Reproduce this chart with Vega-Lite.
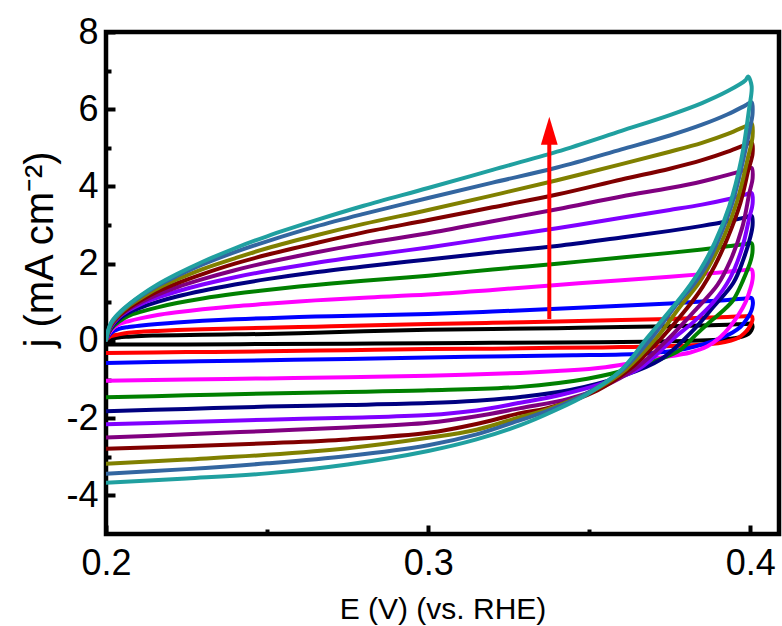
{
"$schema": "https://vega.github.io/schema/vega-lite/v6.json",
"width": 673, "height": 502,
"autosize": {"type": "none"},
"padding": {"left": 106, "top": 32, "right": 3, "bottom": 92},
"background": "white",
"config": {
  "view": {"stroke": "black", "strokeWidth": 4.5},
  "font": "Liberation Sans",
  "axis": {"labelFont": "Liberation Sans", "titleFont": "Liberation Sans", "labelColor": "black", "titleColor": "black", "titleFontWeight": "normal", "domain": false, "grid": false, "tickColor": "black", "labelFlush": false, "labelOverlap": false}
},
"datasets": {
"arrow": [{"E": 0.3376, "j1": 0.57, "j2": 5.3, "jt": 5.44}],
"cv": [
{"c":"k","o":1,"E":0.2,"j":0.03},{"c":"k","o":2,"E":0.2015,"j":0.05},{"c":"k","o":3,"E":0.204,"j":0.09},{"c":"k","o":4,"E":0.207,"j":0.11},{"c":"k","o":5,"E":0.211,"j":0.13},{"c":"k","o":6,"E":0.216,"j":0.14},{"c":"k","o":7,"E":0.222,"j":0.15},{"c":"k","o":8,"E":0.23,"j":0.16},{"c":"k","o":9,"E":0.24,"j":0.17},{"c":"k","o":10,"E":0.25,"j":0.18},{"c":"k","o":11,"E":0.265,"j":0.21},{"c":"k","o":12,"E":0.28,"j":0.25},{"c":"k","o":13,"E":0.3,"j":0.29},{"c":"k","o":14,"E":0.32,"j":0.31},{"c":"k","o":15,"E":0.34,"j":0.33},{"c":"k","o":16,"E":0.36,"j":0.36},{"c":"k","o":17,"E":0.375,"j":0.38},{"c":"k","o":18,"E":0.385,"j":0.40},{"c":"k","o":19,"E":0.393,"j":0.42},{"c":"k","o":20,"E":0.3985,"j":0.44},{"c":"k","o":21,"E":0.4004,"j":0.44},{"c":"k","o":22,"E":0.4007,"j":0.36},{"c":"k","o":23,"E":0.4003,"j":0.27},{"c":"k","o":24,"E":0.3994,"j":0.18},{"c":"k","o":25,"E":0.3975,"j":0.11},{"c":"k","o":26,"E":0.395,"j":0.07},{"c":"k","o":27,"E":0.39,"j":0.03},{"c":"k","o":28,"E":0.38,"j":0.0},{"c":"k","o":29,"E":0.36,"j":-0.03},{"c":"k","o":30,"E":0.34,"j":-0.04},{"c":"k","o":31,"E":0.32,"j":-0.05},{"c":"k","o":32,"E":0.3,"j":-0.06},{"c":"k","o":33,"E":0.275,"j":-0.07},{"c":"k","o":34,"E":0.25,"j":-0.08},{"c":"k","o":35,"E":0.225,"j":-0.09},{"c":"k","o":36,"E":0.2,"j":-0.09},
{"c":"r","o":1,"E":0.2,"j":0.03},{"c":"r","o":2,"E":0.2015,"j":0.12},{"c":"r","o":3,"E":0.204,"j":0.17},{"c":"r","o":4,"E":0.207,"j":0.21},{"c":"r","o":5,"E":0.211,"j":0.24},{"c":"r","o":6,"E":0.216,"j":0.26},{"c":"r","o":7,"E":0.222,"j":0.28},{"c":"r","o":8,"E":0.23,"j":0.30},{"c":"r","o":9,"E":0.24,"j":0.32},{"c":"r","o":10,"E":0.25,"j":0.34},{"c":"r","o":11,"E":0.265,"j":0.37},{"c":"r","o":12,"E":0.28,"j":0.40},{"c":"r","o":13,"E":0.3,"j":0.44},{"c":"r","o":14,"E":0.32,"j":0.47},{"c":"r","o":15,"E":0.34,"j":0.50},{"c":"r","o":16,"E":0.36,"j":0.54},{"c":"r","o":17,"E":0.375,"j":0.57},{"c":"r","o":18,"E":0.385,"j":0.60},{"c":"r","o":19,"E":0.393,"j":0.62},{"c":"r","o":20,"E":0.3985,"j":0.64},{"c":"r","o":21,"E":0.4004,"j":0.64},{"c":"r","o":22,"E":0.4007,"j":0.56},{"c":"r","o":23,"E":0.4003,"j":0.45},{"c":"r","o":24,"E":0.3994,"j":0.32},{"c":"r","o":25,"E":0.398,"j":0.19},{"c":"r","o":26,"E":0.3965,"j":0.09},{"c":"r","o":27,"E":0.394,"j":0.01},{"c":"r","o":28,"E":0.39,"j":-0.06},{"c":"r","o":29,"E":0.38,"j":-0.12},{"c":"r","o":30,"E":0.36,"j":-0.16},{"c":"r","o":31,"E":0.34,"j":-0.18},{"c":"r","o":32,"E":0.32,"j":-0.2},{"c":"r","o":33,"E":0.3,"j":-0.21},{"c":"r","o":34,"E":0.275,"j":-0.24},{"c":"r","o":35,"E":0.25,"j":-0.27},{"c":"r","o":36,"E":0.225,"j":-0.29},{"c":"r","o":37,"E":0.2,"j":-0.31},
{"c":"b","o":1,"E":0.2,"j":0.03},{"c":"b","o":2,"E":0.2015,"j":0.20},{"c":"b","o":3,"E":0.204,"j":0.31},{"c":"b","o":4,"E":0.207,"j":0.36},{"c":"b","o":5,"E":0.211,"j":0.40},{"c":"b","o":6,"E":0.216,"j":0.44},{"c":"b","o":7,"E":0.222,"j":0.48},{"c":"b","o":8,"E":0.23,"j":0.52},{"c":"b","o":9,"E":0.24,"j":0.56},{"c":"b","o":10,"E":0.25,"j":0.59},{"c":"b","o":11,"E":0.265,"j":0.63},{"c":"b","o":12,"E":0.28,"j":0.66},{"c":"b","o":13,"E":0.3,"j":0.70},{"c":"b","o":14,"E":0.32,"j":0.76},{"c":"b","o":15,"E":0.34,"j":0.83},{"c":"b","o":16,"E":0.36,"j":0.91},{"c":"b","o":17,"E":0.375,"j":0.97},{"c":"b","o":18,"E":0.385,"j":1.02},{"c":"b","o":19,"E":0.393,"j":1.06},{"c":"b","o":20,"E":0.3985,"j":1.10},{"c":"b","o":21,"E":0.4004,"j":1.11},{"c":"b","o":22,"E":0.4008,"j":1.0},{"c":"b","o":23,"E":0.4006,"j":0.86},{"c":"b","o":24,"E":0.4,"j":0.72},{"c":"b","o":25,"E":0.3985,"j":0.52},{"c":"b","o":26,"E":0.3969,"j":0.36},{"c":"b","o":27,"E":0.3945,"j":0.22},{"c":"b","o":28,"E":0.3916,"j":0.1},{"c":"b","o":29,"E":0.388,"j":-0.02},{"c":"b","o":30,"E":0.383,"j":-0.14},{"c":"b","o":31,"E":0.377,"j":-0.25},{"c":"b","o":32,"E":0.37,"j":-0.31},{"c":"b","o":33,"E":0.36,"j":-0.35},{"c":"b","o":34,"E":0.345,"j":-0.37},{"c":"b","o":35,"E":0.33,"j":-0.39},{"c":"b","o":36,"E":0.3,"j":-0.43},{"c":"b","o":37,"E":0.275,"j":-0.47},{"c":"b","o":38,"E":0.25,"j":-0.5},{"c":"b","o":39,"E":0.225,"j":-0.53},{"c":"b","o":40,"E":0.2,"j":-0.57},
{"c":"m","o":1,"E":0.2,"j":0.03},{"c":"m","o":2,"E":0.2015,"j":0.26},{"c":"m","o":3,"E":0.204,"j":0.43},{"c":"m","o":4,"E":0.207,"j":0.51},{"c":"m","o":5,"E":0.211,"j":0.59},{"c":"m","o":6,"E":0.216,"j":0.67},{"c":"m","o":7,"E":0.222,"j":0.74},{"c":"m","o":8,"E":0.23,"j":0.82},{"c":"m","o":9,"E":0.24,"j":0.90},{"c":"m","o":10,"E":0.25,"j":0.96},{"c":"m","o":11,"E":0.265,"j":1.05},{"c":"m","o":12,"E":0.28,"j":1.12},{"c":"m","o":13,"E":0.3,"j":1.20},{"c":"m","o":14,"E":0.32,"j":1.32},{"c":"m","o":15,"E":0.34,"j":1.45},{"c":"m","o":16,"E":0.36,"j":1.57},{"c":"m","o":17,"E":0.375,"j":1.66},{"c":"m","o":18,"E":0.385,"j":1.73},{"c":"m","o":19,"E":0.393,"j":1.79},{"c":"m","o":20,"E":0.3985,"j":1.84},{"c":"m","o":21,"E":0.4004,"j":1.85},{"c":"m","o":22,"E":0.4008,"j":1.7},{"c":"m","o":23,"E":0.4005,"j":1.5},{"c":"m","o":24,"E":0.3998,"j":1.3},{"c":"m","o":25,"E":0.3985,"j":1.0},{"c":"m","o":26,"E":0.3965,"j":0.7},{"c":"m","o":27,"E":0.3938,"j":0.38},{"c":"m","o":28,"E":0.3907,"j":0.1},{"c":"m","o":29,"E":0.3867,"j":-0.14},{"c":"m","o":30,"E":0.3814,"j":-0.3},{"c":"m","o":31,"E":0.37,"j":-0.46},{"c":"m","o":32,"E":0.355,"j":-0.68},{"c":"m","o":33,"E":0.34,"j":-0.78},{"c":"m","o":34,"E":0.3286,"j":-0.83},{"c":"m","o":35,"E":0.3,"j":-0.9},{"c":"m","o":36,"E":0.275,"j":-0.94},{"c":"m","o":37,"E":0.25,"j":-0.97},{"c":"m","o":38,"E":0.225,"j":-1.0},{"c":"m","o":39,"E":0.2,"j":-1.03},
{"c":"g","o":1,"E":0.2,"j":0.03},{"c":"g","o":2,"E":0.2015,"j":0.30},{"c":"g","o":3,"E":0.204,"j":0.50},{"c":"g","o":4,"E":0.207,"j":0.65},{"c":"g","o":5,"E":0.211,"j":0.76},{"c":"g","o":6,"E":0.216,"j":0.87},{"c":"g","o":7,"E":0.222,"j":0.98},{"c":"g","o":8,"E":0.23,"j":1.10},{"c":"g","o":9,"E":0.24,"j":1.22},{"c":"g","o":10,"E":0.25,"j":1.32},{"c":"g","o":11,"E":0.265,"j":1.45},{"c":"g","o":12,"E":0.28,"j":1.56},{"c":"g","o":13,"E":0.3,"j":1.69},{"c":"g","o":14,"E":0.32,"j":1.85},{"c":"g","o":15,"E":0.34,"j":2.00},{"c":"g","o":16,"E":0.36,"j":2.16},{"c":"g","o":17,"E":0.375,"j":2.28},{"c":"g","o":18,"E":0.385,"j":2.37},{"c":"g","o":19,"E":0.393,"j":2.45},{"c":"g","o":20,"E":0.3985,"j":2.51},{"c":"g","o":21,"E":0.4004,"j":2.53},{"c":"g","o":22,"E":0.4007,"j":2.35},{"c":"g","o":23,"E":0.4002,"j":2.1},{"c":"g","o":24,"E":0.3978,"j":1.58},{"c":"g","o":25,"E":0.3947,"j":1.06},{"c":"g","o":26,"E":0.3915,"j":0.78},{"c":"g","o":27,"E":0.3876,"j":0.50},{"c":"g","o":28,"E":0.383,"j":0.15},{"c":"g","o":29,"E":0.3783,"j":-0.23},{"c":"g","o":30,"E":0.372,"j":-0.47},{"c":"g","o":31,"E":0.365,"j":-0.67},{"c":"g","o":32,"E":0.3494,"j":-0.98},{"c":"g","o":33,"E":0.3286,"j":-1.19},{"c":"g","o":34,"E":0.3,"j":-1.28},{"c":"g","o":35,"E":0.275,"j":-1.32},{"c":"g","o":36,"E":0.25,"j":-1.36},{"c":"g","o":37,"E":0.225,"j":-1.41},{"c":"g","o":38,"E":0.2,"j":-1.46},
{"c":"n","o":1,"E":0.2,"j":0.03},{"c":"n","o":2,"E":0.2015,"j":0.33},{"c":"n","o":3,"E":0.204,"j":0.56},{"c":"n","o":4,"E":0.207,"j":0.73},{"c":"n","o":5,"E":0.211,"j":0.87},{"c":"n","o":6,"E":0.216,"j":1.01},{"c":"n","o":7,"E":0.222,"j":1.15},{"c":"n","o":8,"E":0.23,"j":1.30},{"c":"n","o":9,"E":0.24,"j":1.46},{"c":"n","o":10,"E":0.25,"j":1.60},{"c":"n","o":11,"E":0.265,"j":1.78},{"c":"n","o":12,"E":0.28,"j":1.93},{"c":"n","o":13,"E":0.3,"j":2.11},{"c":"n","o":14,"E":0.32,"j":2.29},{"c":"n","o":15,"E":0.34,"j":2.46},{"c":"n","o":16,"E":0.36,"j":2.68},{"c":"n","o":17,"E":0.375,"j":2.85},{"c":"n","o":18,"E":0.385,"j":2.98},{"c":"n","o":19,"E":0.393,"j":3.10},{"c":"n","o":20,"E":0.3985,"j":3.20},{"c":"n","o":21,"E":0.4004,"j":3.24},{"c":"n","o":22,"E":0.4007,"j":3.0},{"c":"n","o":23,"E":0.4,"j":2.69},{"c":"n","o":24,"E":0.3978,"j":2.1},{"c":"n","o":25,"E":0.3947,"j":1.5},{"c":"n","o":26,"E":0.3885,"j":0.88},{"c":"n","o":27,"E":0.3823,"j":0.28},{"c":"n","o":28,"E":0.372,"j":-0.49},{"c":"n","o":29,"E":0.3596,"j":-0.93},{"c":"n","o":30,"E":0.3441,"j":-1.27},{"c":"n","o":31,"E":0.3286,"j":-1.45},{"c":"n","o":32,"E":0.315,"j":-1.55},{"c":"n","o":33,"E":0.3,"j":-1.61},{"c":"n","o":34,"E":0.275,"j":-1.66},{"c":"n","o":35,"E":0.25,"j":-1.70},{"c":"n","o":36,"E":0.225,"j":-1.76},{"c":"n","o":37,"E":0.2,"j":-1.82},
{"c":"v","o":1,"E":0.2,"j":0.03},{"c":"v","o":2,"E":0.2015,"j":0.36},{"c":"v","o":3,"E":0.204,"j":0.61},{"c":"v","o":4,"E":0.207,"j":0.79},{"c":"v","o":5,"E":0.211,"j":0.96},{"c":"v","o":6,"E":0.216,"j":1.12},{"c":"v","o":7,"E":0.222,"j":1.28},{"c":"v","o":8,"E":0.23,"j":1.46},{"c":"v","o":9,"E":0.24,"j":1.65},{"c":"v","o":10,"E":0.25,"j":1.81},{"c":"v","o":11,"E":0.265,"j":2.02},{"c":"v","o":12,"E":0.28,"j":2.20},{"c":"v","o":13,"E":0.3,"j":2.42},{"c":"v","o":14,"E":0.32,"j":2.67},{"c":"v","o":15,"E":0.34,"j":2.92},{"c":"v","o":16,"E":0.36,"j":3.19},{"c":"v","o":17,"E":0.375,"j":3.39},{"c":"v","o":18,"E":0.385,"j":3.53},{"c":"v","o":19,"E":0.393,"j":3.67},{"c":"v","o":20,"E":0.3985,"j":3.79},{"c":"v","o":21,"E":0.4004,"j":3.83},{"c":"v","o":22,"E":0.4007,"j":3.55},{"c":"v","o":23,"E":0.3997,"j":3.2},{"c":"v","o":24,"E":0.3975,"j":2.42},{"c":"v","o":25,"E":0.3938,"j":1.64},{"c":"v","o":26,"E":0.3885,"j":1.0},{"c":"v","o":27,"E":0.3825,"j":0.5},{"c":"v","o":28,"E":0.3761,"j":0.06},{"c":"v","o":29,"E":0.3658,"j":-0.7},{"c":"v","o":30,"E":0.3534,"j":-1.12},{"c":"v","o":31,"E":0.341,"j":-1.4},{"c":"v","o":32,"E":0.3286,"j":-1.6},{"c":"v","o":33,"E":0.315,"j":-1.8},{"c":"v","o":34,"E":0.3,"j":-1.92},{"c":"v","o":35,"E":0.275,"j":-1.99},{"c":"v","o":36,"E":0.25,"j":-2.04},{"c":"v","o":37,"E":0.225,"j":-2.1},{"c":"v","o":38,"E":0.2,"j":-2.16},
{"c":"p","o":1,"E":0.2,"j":0.03},{"c":"p","o":2,"E":0.2015,"j":0.38},{"c":"p","o":3,"E":0.204,"j":0.63},{"c":"p","o":4,"E":0.207,"j":0.82},{"c":"p","o":5,"E":0.211,"j":1.01},{"c":"p","o":6,"E":0.216,"j":1.20},{"c":"p","o":7,"E":0.222,"j":1.39},{"c":"p","o":8,"E":0.23,"j":1.60},{"c":"p","o":9,"E":0.24,"j":1.83},{"c":"p","o":10,"E":0.25,"j":2.03},{"c":"p","o":11,"E":0.265,"j":2.29},{"c":"p","o":12,"E":0.28,"j":2.52},{"c":"p","o":13,"E":0.3,"j":2.79},{"c":"p","o":14,"E":0.32,"j":3.10},{"c":"p","o":15,"E":0.34,"j":3.41},{"c":"p","o":16,"E":0.36,"j":3.74},{"c":"p","o":17,"E":0.375,"j":3.96},{"c":"p","o":18,"E":0.385,"j":4.13},{"c":"p","o":19,"E":0.393,"j":4.30},{"c":"p","o":20,"E":0.3985,"j":4.43},{"c":"p","o":21,"E":0.4004,"j":4.48},{"c":"p","o":22,"E":0.4007,"j":4.2},{"c":"p","o":23,"E":0.3997,"j":3.83},{"c":"p","o":24,"E":0.3975,"j":2.94},{"c":"p","o":25,"E":0.3938,"j":2.08},{"c":"p","o":26,"E":0.3898,"j":1.45},{"c":"p","o":27,"E":0.3835,"j":0.85},{"c":"p","o":28,"E":0.3745,"j":0.05},{"c":"p","o":29,"E":0.3643,"j":-0.72},{"c":"p","o":30,"E":0.3534,"j":-1.22},{"c":"p","o":31,"E":0.3435,"j":-1.5},{"c":"p","o":32,"E":0.3286,"j":-1.74},{"c":"p","o":33,"E":0.315,"j":-1.95},{"c":"p","o":34,"E":0.3,"j":-2.12},{"c":"p","o":35,"E":0.275,"j":-2.24},{"c":"p","o":36,"E":0.25,"j":-2.33},{"c":"p","o":37,"E":0.225,"j":-2.42},{"c":"p","o":38,"E":0.2,"j":-2.5},
{"c":"w","o":1,"E":0.2,"j":0.03},{"c":"w","o":2,"E":0.2015,"j":0.40},{"c":"w","o":3,"E":0.204,"j":0.65},{"c":"w","o":4,"E":0.207,"j":0.85},{"c":"w","o":5,"E":0.211,"j":1.06},{"c":"w","o":6,"E":0.216,"j":1.28},{"c":"w","o":7,"E":0.222,"j":1.49},{"c":"w","o":8,"E":0.23,"j":1.73},{"c":"w","o":9,"E":0.24,"j":2.00},{"c":"w","o":10,"E":0.25,"j":2.23},{"c":"w","o":11,"E":0.265,"j":2.53},{"c":"w","o":12,"E":0.28,"j":2.81},{"c":"w","o":13,"E":0.3,"j":3.13},{"c":"w","o":14,"E":0.32,"j":3.46},{"c":"w","o":15,"E":0.34,"j":3.79},{"c":"w","o":16,"E":0.36,"j":4.18},{"c":"w","o":17,"E":0.375,"j":4.46},{"c":"w","o":18,"E":0.385,"j":4.68},{"c":"w","o":19,"E":0.393,"j":4.90},{"c":"w","o":20,"E":0.3985,"j":5.08},{"c":"w","o":21,"E":0.4004,"j":5.14},{"c":"w","o":22,"E":0.4007,"j":4.85},{"c":"w","o":23,"E":0.3994,"j":4.43},{"c":"w","o":24,"E":0.3969,"j":3.57},{"c":"w","o":25,"E":0.393,"j":2.68},{"c":"w","o":26,"E":0.389,"j":1.95},{"c":"w","o":27,"E":0.3852,"j":1.4},{"c":"w","o":28,"E":0.3804,"j":0.85},{"c":"w","o":29,"E":0.3727,"j":0.1},{"c":"w","o":30,"E":0.3627,"j":-0.72},{"c":"w","o":31,"E":0.3525,"j":-1.28},{"c":"w","o":32,"E":0.3367,"j":-1.75},{"c":"w","o":33,"E":0.3286,"j":-1.87},{"c":"w","o":34,"E":0.315,"j":-2.15},{"c":"w","o":35,"E":0.3,"j":-2.38},{"c":"w","o":36,"E":0.275,"j":-2.55},{"c":"w","o":37,"E":0.25,"j":-2.65},{"c":"w","o":38,"E":0.225,"j":-2.73},{"c":"w","o":39,"E":0.2,"j":-2.79},
{"c":"o","o":1,"E":0.2,"j":0.03},{"c":"o","o":2,"E":0.2015,"j":0.42},{"c":"o","o":3,"E":0.204,"j":0.68},{"c":"o","o":4,"E":0.207,"j":0.90},{"c":"o","o":5,"E":0.211,"j":1.12},{"c":"o","o":6,"E":0.216,"j":1.36},{"c":"o","o":7,"E":0.222,"j":1.59},{"c":"o","o":8,"E":0.23,"j":1.86},{"c":"o","o":9,"E":0.24,"j":2.14},{"c":"o","o":10,"E":0.25,"j":2.40},{"c":"o","o":11,"E":0.265,"j":2.73},{"c":"o","o":12,"E":0.28,"j":3.03},{"c":"o","o":13,"E":0.3,"j":3.39},{"c":"o","o":14,"E":0.32,"j":3.77},{"c":"o","o":15,"E":0.34,"j":4.16},{"c":"o","o":16,"E":0.36,"j":4.58},{"c":"o","o":17,"E":0.375,"j":4.90},{"c":"o","o":18,"E":0.385,"j":5.13},{"c":"o","o":19,"E":0.393,"j":5.36},{"c":"o","o":20,"E":0.3985,"j":5.56},{"c":"o","o":21,"E":0.4004,"j":5.63},{"c":"o","o":22,"E":0.4007,"j":5.3},{"c":"o","o":23,"E":0.3991,"j":4.69},{"c":"o","o":24,"E":0.396,"j":3.65},{"c":"o","o":25,"E":0.3917,"j":2.68},{"c":"o","o":26,"E":0.3876,"j":2.0},{"c":"o","o":27,"E":0.3836,"j":1.45},{"c":"o","o":28,"E":0.3783,"j":0.9},{"c":"o","o":29,"E":0.3711,"j":0.1},{"c":"o","o":30,"E":0.3612,"j":-0.75},{"c":"o","o":31,"E":0.3509,"j":-1.3},{"c":"o","o":32,"E":0.3367,"j":-1.78},{"c":"o","o":33,"E":0.3286,"j":-1.97},{"c":"o","o":34,"E":0.315,"j":-2.3},{"c":"o","o":35,"E":0.3,"j":-2.51},{"c":"o","o":36,"E":0.275,"j":-2.78},{"c":"o","o":37,"E":0.25,"j":-2.95},{"c":"o","o":38,"E":0.225,"j":-3.07},{"c":"o","o":39,"E":0.2,"j":-3.18},
{"c":"s","o":1,"E":0.2,"j":0.03},{"c":"s","o":2,"E":0.2015,"j":0.44},{"c":"s","o":3,"E":0.204,"j":0.70},{"c":"s","o":4,"E":0.207,"j":0.93},{"c":"s","o":5,"E":0.211,"j":1.17},{"c":"s","o":6,"E":0.216,"j":1.43},{"c":"s","o":7,"E":0.222,"j":1.68},{"c":"s","o":8,"E":0.23,"j":1.98},{"c":"s","o":9,"E":0.24,"j":2.30},{"c":"s","o":10,"E":0.25,"j":2.58},{"c":"s","o":11,"E":0.265,"j":2.96},{"c":"s","o":12,"E":0.28,"j":3.29},{"c":"s","o":13,"E":0.3,"j":3.70},{"c":"s","o":14,"E":0.32,"j":4.10},{"c":"s","o":15,"E":0.34,"j":4.49},{"c":"s","o":16,"E":0.36,"j":4.96},{"c":"s","o":17,"E":0.375,"j":5.32},{"c":"s","o":18,"E":0.385,"j":5.60},{"c":"s","o":19,"E":0.393,"j":5.87},{"c":"s","o":20,"E":0.3985,"j":6.10},{"c":"s","o":21,"E":0.4004,"j":6.18},{"c":"s","o":22,"E":0.4007,"j":5.9},{"c":"s","o":23,"E":0.4,"j":5.55},{"c":"s","o":24,"E":0.3978,"j":4.69},{"c":"s","o":25,"E":0.3944,"j":3.57},{"c":"s","o":26,"E":0.39,"j":2.6},{"c":"s","o":27,"E":0.386,"j":1.9},{"c":"s","o":28,"E":0.3823,"j":1.45},{"c":"s","o":29,"E":0.3767,"j":0.9},{"c":"s","o":30,"E":0.3696,"j":0.1},{"c":"s","o":31,"E":0.3602,"j":-0.76},{"c":"s","o":32,"E":0.35,"j":-1.32},{"c":"s","o":33,"E":0.3375,"j":-1.8},{"c":"s","o":34,"E":0.3286,"j":-2.05},{"c":"s","o":35,"E":0.315,"j":-2.42},{"c":"s","o":36,"E":0.3,"j":-2.7},{"c":"s","o":37,"E":0.275,"j":-2.98},{"c":"s","o":38,"E":0.25,"j":-3.17},{"c":"s","o":39,"E":0.225,"j":-3.32},{"c":"s","o":40,"E":0.2,"j":-3.44},
{"c":"t","o":1,"E":0.2,"j":0.03},{"c":"t","o":2,"E":0.2015,"j":0.46},{"c":"t","o":3,"E":0.204,"j":0.72},{"c":"t","o":4,"E":0.207,"j":0.94},{"c":"t","o":5,"E":0.211,"j":1.19},{"c":"t","o":6,"E":0.216,"j":1.46},{"c":"t","o":7,"E":0.222,"j":1.73},{"c":"t","o":8,"E":0.23,"j":2.05},{"c":"t","o":9,"E":0.24,"j":2.40},{"c":"t","o":10,"E":0.25,"j":2.71},{"c":"t","o":11,"E":0.265,"j":3.12},{"c":"t","o":12,"E":0.28,"j":3.50},{"c":"t","o":13,"E":0.3,"j":3.96},{"c":"t","o":14,"E":0.32,"j":4.43},{"c":"t","o":15,"E":0.34,"j":4.90},{"c":"t","o":16,"E":0.36,"j":5.44},{"c":"t","o":17,"E":0.375,"j":5.85},{"c":"t","o":18,"E":0.385,"j":6.16},{"c":"t","o":19,"E":0.393,"j":6.47},{"c":"t","o":20,"E":0.3985,"j":6.75},{"c":"t","o":21,"E":0.3993,"j":6.85},{"c":"t","o":22,"E":0.4004,"j":6.6},{"c":"t","o":23,"E":0.3996,"j":6.0},{"c":"t","o":24,"E":0.3972,"j":4.7},{"c":"t","o":25,"E":0.3935,"j":3.5},{"c":"t","o":26,"E":0.389,"j":2.55},{"c":"t","o":27,"E":0.3845,"j":1.85},{"c":"t","o":28,"E":0.38,"j":1.3},{"c":"t","o":29,"E":0.3752,"j":0.8},{"c":"t","o":30,"E":0.368,"j":0.08},{"c":"t","o":31,"E":0.3596,"j":-0.78},{"c":"t","o":32,"E":0.3494,"j":-1.38},{"c":"t","o":33,"E":0.3388,"j":-1.82},{"c":"t","o":34,"E":0.3286,"j":-2.18},{"c":"t","o":35,"E":0.315,"j":-2.55},{"c":"t","o":36,"E":0.3,"j":-2.85},{"c":"t","o":37,"E":0.275,"j":-3.2},{"c":"t","o":38,"E":0.25,"j":-3.43},{"c":"t","o":39,"E":0.225,"j":-3.56},{"c":"t","o":40,"E":0.2,"j":-3.67}
]
},
"layer": [
  {
    "data": {"name": "cv"},
    "mark": {"type": "line", "strokeWidth": 4, "interpolate": "catmull-rom", "strokeJoin": "round", "strokeCap": "round", "clip": true},
    "encoding": {
      "x": {"field": "E", "type": "quantitative", "scale": {"domain": [0.2, 0.4089], "nice": false, "zero": false},
        "axis": {"values": [0.2, 0.3, 0.4], "format": ".1f", "labelFontSize": 36, "tickSize": -9, "tickWidth": 4, "labelPadding": 21.5, "title": "E (V) (vs. RHE)", "titleFontSize": 30, "titleY": 84, "titleBaseline": "alphabetic", "orient": "bottom"}},
      "y": {"field": "j", "type": "quantitative", "scale": {"domain": [-5, 8], "nice": false, "zero": false},
        "axis": {"values": [-4, -2, 0, 2, 4, 6, 8], "labelExpr": "'' + datum.value", "labelFontSize": 36, "tickSize": -9, "tickWidth": 4, "labelPadding": 17, "title": "j (mA cm⁻²)", "titleFontSize": 40, "titleAngle": -90, "titleX": -66, "titleY": 217, "titleAlign": "center", "titleBaseline": "middle", "orient": "left"}},
      "color": {"field": "c", "type": "nominal", "legend": null,
        "scale": {"domain": ["k","r","b","m","g","n","v","p","w","o","s","t"],
                  "range": ["#000000","#FF0000","#0000FF","#FF00FF","#008000","#000080","#8000FF","#800080","#800000","#808000","#3366A0","#20A0A0"]}},
      "order": {"field": "o", "type": "quantitative"}
    }
  },
  {
    "data": {"name": "arrow"},
    "mark": {"type": "rule", "color": "#FF0000", "strokeWidth": 4},
    "encoding": {
      "x": {"field": "E", "type": "quantitative", "scale": {"domain": [0.2, 0.4089], "nice": false, "zero": false},
        "axis": {"values": [0.25, 0.35], "labels": false, "tickSize": -5, "tickWidth": 4, "title": null, "orient": "bottom"}},
      "y": {"field": "j1", "type": "quantitative", "scale": {"domain": [-5, 8], "nice": false, "zero": false},
        "axis": {"values": [-3, -1, 1, 3, 5, 7], "labels": false, "tickSize": -5, "tickWidth": 4, "title": null, "orient": "left"}},
      "y2": {"field": "j2"}
    }
  },
  {
    "data": {"name": "arrow"},
    "mark": {"type": "point", "shape": "M0,-1L0.6,1L-0.6,1Z", "filled": true, "color": "#FF0000", "size": 784, "opacity": 1, "strokeWidth": 0},
    "encoding": {
      "x": {"field": "E", "type": "quantitative", "scale": {"domain": [0.2, 0.4089], "nice": false, "zero": false}, "axis": null},
      "y": {"field": "jt", "type": "quantitative", "scale": {"domain": [-5, 8], "nice": false, "zero": false}, "axis": null}
    }
  }
],
"resolve": {"axis": {"x": "independent", "y": "independent"}}
}
